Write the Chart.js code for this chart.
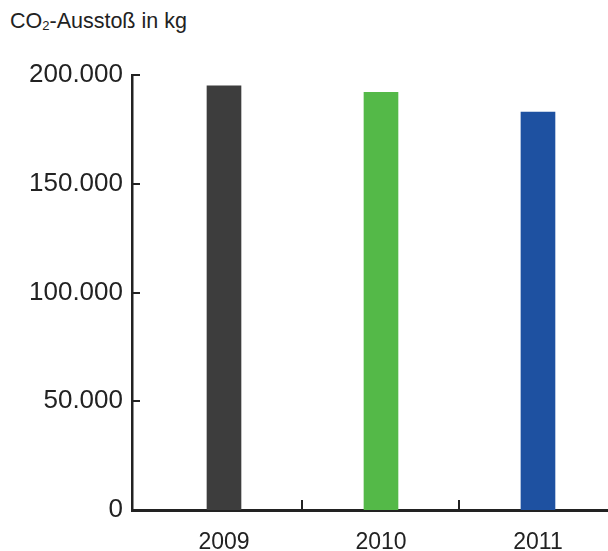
<!DOCTYPE html>
<html>
<head>
<meta charset="UTF-8">
<title>CO2-Ausstoß</title>
<style>
    body { margin: 0; background: #fff; overflow: hidden; }
    .wrap { position: relative; width: 608px; height: 551px; }
    .titel {
        position: absolute; left: 10px; top: 9px;
        font-family: 'Liberation Sans', Arial, sans-serif;
        font-size: 21.5px; color: #222;
    }
    .titel sub { font-size: 13px; vertical-align: -2px; }
    canvas { position: absolute; left: 0; top: 0; }
</style>
</head>
<body>
<div class="wrap">
    <div class="titel">CO<sub>2</sub>-Ausstoß in kg</div>
    <canvas id="co2Chart" width="608" height="551"></canvas>
</div>
<script src="https://cdn.jsdelivr.net/npm/chart.js"></script>
<script>
    // Daten
    const jahre = [2009, 2010, 2011];
    const ausstoss = [195000, 192000, 183000];
    const farben = ['#3d3d3d', '#54b948', '#1e51a1'];
    const yTicks = [0, 50000, 100000, 150000, 200000];

    const axisColor = '#222';

    function formatDe(v) {
        return String(v).replace(/\B(?=(\d{3})+(?!\d))/g, '.');
    }

    // kurze Striche nach innen an beiden Achsen
    const innerTicks = {
        id: 'innerTicks',
        afterDraw(chart) {
            const ctx = chart.ctx;
            const x = chart.scales.x, y = chart.scales.y;
            const area = chart.chartArea;
            ctx.save();
            ctx.strokeStyle = axisColor;
            ctx.lineWidth = 2;
            y.ticks.forEach(t => {
                const py = Math.round(y.getPixelForValue(t.value));
                ctx.beginPath();
                ctx.moveTo(area.left, py);
                ctx.lineTo(area.left + 8, py);
                ctx.stroke();
            });
            jahre.forEach(j => {
                const px = Math.round(x.getPixelForValue(j + 0.5));
                ctx.beginPath();
                ctx.moveTo(px, area.bottom);
                ctx.lineTo(px, area.bottom - 10);
                ctx.stroke();
            });
            ctx.restore();
        }
    };

    new Chart(document.getElementById('co2Chart'), {
        type: 'bar',
        data: {
            datasets: [{
                data: jahre.map((j, i) => ({ x: j, y: ausstoss[i] })),
                backgroundColor: farben,
                borderWidth: 0,
                barThickness: 34
            }]
        },
        options: {
            responsive: false,
            animation: false,
            layout: { padding: { top: 75, right: 0, left: 0, bottom: 0 } },
            plugins: {
                legend: { display: false },
                tooltip: { enabled: false }
            },
            scales: {
                x: {
                    type: 'linear',
                    offset: false,
                    bounds: 'data',
                    min: 2008.414,
                    max: 2011.446,
                    afterBuildTicks: s => { s.ticks = jahre.map(v => ({ value: v })); },
                    afterFit: s => { s.height = 41; },
                    grid: { display: false, offset: false },
                    border: { display: true, color: axisColor, width: 3 },
                    ticks: {
                        color: axisColor,
                        padding: 11,
                        maxRotation: 0,
                        font: { family: "'Liberation Sans', Arial", size: 23 },
                        callback: v => String(v)
                    }
                },
                y: {
                    min: 0,
                    max: 200000,
                    afterBuildTicks: s => { s.ticks = yTicks.map(v => ({ value: v })); },
                    afterFit: s => { s.width = 132; },
                    grid: { display: false },
                    border: { display: true, color: axisColor, width: 2.5 },
                    ticks: {
                        color: axisColor,
                        padding: 1,
                        font: { family: "'Liberation Sans', Arial", size: 26 },
                        callback: v => formatDe(v)
                    }
                }
            }
        },
        plugins: [innerTicks]
    });
</script>
</body>
</html>
